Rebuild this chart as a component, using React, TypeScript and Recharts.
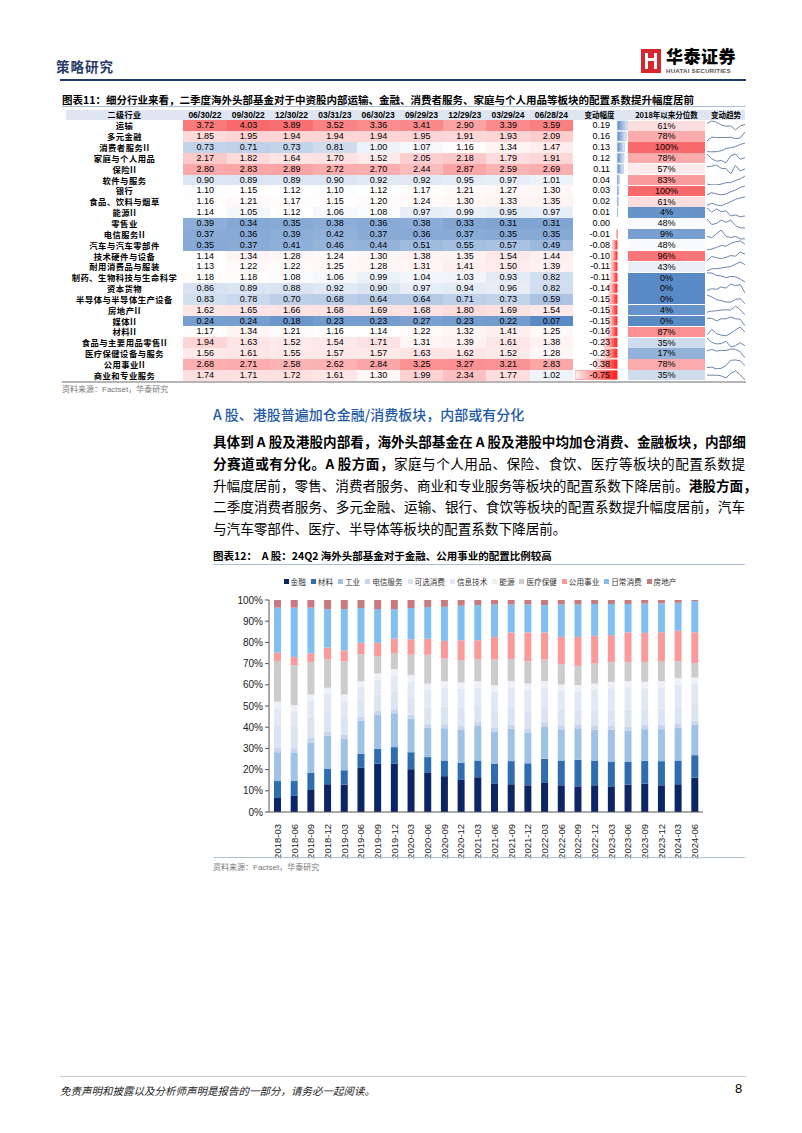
import React from "react";
import { BarChart, Bar, XAxis, YAxis, LineChart, Line, Cell } from "recharts";

// ---------- 图表11 表格数据 ----------
const dates = ["06/30/22", "09/30/22", "12/30/22", "03/31/23", "06/30/23", "09/29/23", "12/29/23", "03/29/24", "06/28/24"];

const industries = [
  "运输", "多元金融", "消费者服务II", "家庭与个人用品", "保险II", "软件与服务", "银行", "食品、饮料与烟草",
  "能源II", "零售业", "电信服务II", "汽车与汽车零部件", "技术硬件与设备", "耐用消费品与服装",
  "制药、生物科技与生命科学", "资本货物", "半导体与半导体生产设备", "房地产II", "媒体II", "材料II",
  "食品与主要用品零售II", "医疗保健设备与服务", "公用事业II", "商业和专业服务",
];

const coefRows = [
  [3.72, 4.03, 3.89, 3.52, 3.36, 3.41, 2.90, 3.39, 3.59],
  [1.85, 1.95, 1.94, 1.94, 1.94, 1.95, 1.91, 1.93, 2.09],
  [0.73, 0.71, 0.73, 0.81, 1.00, 1.07, 1.16, 1.34, 1.47],
  [2.17, 1.82, 1.64, 1.70, 1.52, 2.05, 2.18, 1.79, 1.91],
  [2.80, 2.83, 2.89, 2.72, 2.70, 2.44, 2.87, 2.59, 2.69],
  [0.90, 0.89, 0.89, 0.90, 0.92, 0.92, 0.95, 0.97, 1.01],
  [1.10, 1.15, 1.12, 1.10, 1.12, 1.17, 1.21, 1.27, 1.30],
  [1.16, 1.21, 1.17, 1.15, 1.20, 1.24, 1.30, 1.33, 1.35],
  [1.14, 1.05, 1.12, 1.06, 1.08, 0.97, 0.99, 0.95, 0.97],
  [0.39, 0.34, 0.35, 0.38, 0.36, 0.38, 0.33, 0.31, 0.31],
  [0.37, 0.36, 0.39, 0.42, 0.37, 0.36, 0.37, 0.35, 0.35],
  [0.35, 0.37, 0.41, 0.46, 0.44, 0.51, 0.55, 0.57, 0.49],
  [1.14, 1.34, 1.28, 1.24, 1.30, 1.38, 1.35, 1.54, 1.44],
  [1.13, 1.22, 1.22, 1.25, 1.28, 1.31, 1.41, 1.50, 1.39],
  [1.18, 1.18, 1.08, 1.06, 0.99, 1.04, 1.03, 0.93, 0.82],
  [0.86, 0.89, 0.88, 0.92, 0.90, 0.97, 0.94, 0.96, 0.82],
  [0.83, 0.78, 0.70, 0.68, 0.64, 0.64, 0.71, 0.73, 0.59],
  [1.62, 1.65, 1.66, 1.68, 1.69, 1.68, 1.80, 1.69, 1.54],
  [0.24, 0.24, 0.18, 0.23, 0.23, 0.27, 0.23, 0.22, 0.07],
  [1.17, 1.34, 1.21, 1.16, 1.14, 1.22, 1.32, 1.41, 1.25],
  [1.94, 1.63, 1.52, 1.54, 1.71, 1.31, 1.39, 1.61, 1.38],
  [1.56, 1.61, 1.55, 1.57, 1.57, 1.63, 1.62, 1.52, 1.28],
  [2.68, 2.71, 2.58, 2.62, 2.84, 3.25, 3.27, 3.21, 2.83],
  [1.74, 1.71, 1.72, 1.61, 1.30, 1.99, 2.34, 1.77, 1.02],
];

const changes = [0.19, 0.16, 0.13, 0.12, 0.11, 0.04, 0.03, 0.02, 0.01, 0.0, -0.01, -0.08, -0.10, -0.11, -0.11, -0.14, -0.15, -0.15, -0.15, -0.16, -0.23, -0.23, -0.38, -0.75];
const quantiles = [61, 78, 100, 78, 57, 83, 100, 61, 4, 48, 9, 48, 96, 43, 0, 0, 0, 4, 0, 87, 35, 17, 78, 35];

// ---------- 图表12 数据 (%) ----------
const quarters = [
  "2018-03", "2018-06", "2018-09", "2018-12", "2019-03", "2019-06", "2019-09", "2019-12", "2020-03", "2020-06",
  "2020-09", "2020-12", "2021-03", "2021-06", "2021-09", "2021-12", "2022-03", "2022-06", "2022-09", "2022-12",
  "2023-03", "2023-06", "2023-09", "2023-12", "2024-03", "2024-06",
];
const jinrong = [6.6, 7.6, 10.7, 13.1, 12.9, 20.8, 22.8, 22.8, 20.2, 18.7, 16.9, 15.4, 16.4, 13.5, 13.1, 12.6, 14.0, 12.6, 12.1, 12.6, 12.1, 12.9, 13.4, 12.6, 13.1, 16.2];
const cailiao = [8.0, 7.0, 7.7, 7.4, 6.8, 6.7, 7.0, 7.8, 8.0, 7.2, 7.4, 7.9, 7.9, 9.2, 10.9, 10.4, 11.1, 11.7, 12.5, 11.7, 11.7, 10.9, 10.7, 11.4, 11.2, 10.6];
const gongye = [13.6, 13.5, 14.4, 15.6, 14.7, 15.6, 16.0, 16.0, 15.8, 13.7, 15.2, 15.4, 16.3, 15.2, 15.3, 14.4, 15.3, 14.7, 14.9, 14.5, 15.0, 14.6, 15.0, 15.1, 15.3, 14.4];
const dianxin = [2.0, 2.0, 2.1, 2.0, 2.0, 1.8, 1.8, 1.8, 1.9, 1.8, 1.9, 1.9, 1.8, 1.9, 1.9, 2.0, 1.9, 1.9, 1.9, 1.9, 1.9, 1.9, 1.9, 1.9, 1.9, 1.9];
const kexuan = [11.2, 10.5, 10.0, 9.5, 8.8, 7.5, 7.8, 8.5, 8.2, 8.0, 8.3, 8.5, 8.0, 8.0, 8.1, 8.2, 7.5, 7.2, 7.0, 7.4, 7.7, 8.0, 7.6, 7.8, 8.1, 7.8];
const xinxi = [7.5, 7.0, 7.5, 8.0, 7.2, 6.5, 7.0, 7.5, 7.5, 8.2, 9.0, 9.0, 8.3, 9.0, 9.5, 10.0, 9.0, 9.0, 8.5, 9.5, 10.0, 10.5, 9.8, 10.0, 10.5, 9.5];
const nengyuan = [3.1, 2.9, 3.0, 3.0, 3.0, 2.8, 3.0, 3.0, 3.0, 3.0, 3.0, 3.0, 3.0, 3.0, 3.0, 3.0, 3.0, 3.0, 3.0, 3.0, 3.0, 3.0, 3.0, 3.0, 3.0, 3.0];
const yiliao = [19.2, 18.7, 15.4, 13.4, 15.7, 12.7, 8.1, 7.6, 9.6, 13.6, 10.7, 10.5, 10.3, 12.1, 10.4, 10.5, 10.1, 9.6, 9.0, 9.4, 9.4, 9.0, 9.4, 9.4, 8.0, 6.9];
const gongyong = [4.0, 3.9, 4.1, 5.6, 5.2, 5.4, 6.3, 6.8, 7.3, 7.5, 8.3, 9.4, 9.0, 10.7, 12.5, 13.6, 12.8, 12.9, 13.7, 13.1, 12.6, 13.9, 13.7, 13.6, 14.4, 14.5];
const richang = [21.2, 23.3, 21.5, 18.1, 19.4, 16.4, 15.9, 13.9, 14.7, 15.0, 16.1, 16.3, 16.6, 15.3, 13.2, 13.2, 12.9, 15.3, 15.3, 15.0, 14.7, 13.4, 13.8, 13.6, 13.2, 14.7];
const fangdichan = [3.6, 3.6, 3.6, 4.3, 4.3, 3.8, 4.3, 4.3, 3.8, 3.3, 3.2, 2.7, 2.4, 2.1, 2.1, 2.1, 2.4, 2.1, 2.1, 1.9, 1.9, 1.9, 1.7, 1.6, 1.3, 0.5];

const seriesNames = ["金融", "材料", "工业", "电信服务", "可选消费", "信息技术", "能源", "医疗保健", "公用事业", "日常消费", "房地产"];
const seriesValues = [jinrong, cailiao, gongye, dianxin, kexuan, xinxi, nengyuan, yiliao, gongyong, richang, fangdichan];
const seriesColors = ["#0c2566", "#2f6db3", "#9fc3e7", "#c6d6ee", "#dbe4f3", "#e3e9f4", "#eef1f7", "#cccccc", "#fb9a9a", "#80bff0", "#c77b80"];

const stackData = quarters.map((q, i) => {
  const row: Record<string, number | string> = { q };
  seriesNames.forEach((n, k) => (row[n] = seriesValues[k][i]));
  return row;
});

// ---------- helpers ----------
const BLUE = [90, 138, 198];
const RED = [248, 105, 107];
const mix = (c: number[], t: number) => {
  const k = Math.max(0, Math.min(1, t));
  const ch = c.map((v) => Math.round(255 + (v - 255) * k));
  return `rgb(${ch[0]},${ch[1]},${ch[2]})`;
};
const scale3 = (v: number, min: number, mid: number, max: number) =>
  v <= mid ? mix(BLUE, (mid - v) / (mid - min)) : mix(RED, (v - mid) / (max - mid));

const cn = '"Noto Sans CJK SC", sans-serif';
const num = '"Liberation Sans", Arial, sans-serif';

const ROW_H = 10.85;
const TABLE_TOP = 120.3;
const COL_W = 43.3;
const COL0 = 183.3;

const XTick = (props: any) => {
  const { x, y, payload } = props;
  return (
    <text x={x} y={y + 4} transform={`rotate(-90, ${x}, ${y + 4})`} textAnchor="end" dominantBaseline="central"
      fontSize={9.5} fill="#222" fontFamily={num}>
      {payload.value}
    </text>
  );
};

const bodyLines = [
  { parts: [{ t: "具体到 A 股及港股内部看，海外头部基金在 A 股及港股中均加仓消费、金融板块，内部细", b: true }], j: true },
  { parts: [{ t: "分赛道或有分化。", b: true }, { t: "A 股方面，", b: true }, { t: "家庭与个人用品、保险、食饮、医疗等板块的配置系数提", b: false }], j: true },
  { parts: [{ t: "升幅度居前，零售、消费者服务、商业和专业服务等板块的配置系数下降居前。", b: false }, { t: "港股方面，", b: true }], j: true },
  { parts: [{ t: "二季度消费者服务、多元金融、运输、银行、食饮等板块的配置系数提升幅度居前，汽车", b: false }], j: true },
  { parts: [{ t: "与汽车零部件、医疗、半导体等板块的配置系数下降居前。", b: false }], j: false },
];

export default function App() {
  const changeData = industries.map((name, i) => ({ name, v: changes[i] }));

  return (
    <div style={{ position: "absolute", left: 0, top: 0, width: 802, height: 1133, background: "#fff", overflow: "hidden", fontFamily: cn, color: "#000" }}>
      {/* page header */}
      <div style={{ position: "absolute", left: 56, top: 56, fontSize: 13.5, fontWeight: 700, color: "#2a3c6a", letterSpacing: 1 }}>策略研究</div>
      <div style={{ position: "absolute", left: 641, top: 49, width: 20, height: 24, background: "#d7282f" }}>
        <div style={{ position: "absolute", left: 4, top: 4, width: 3, height: 16, background: "#fff" }} />
        <div style={{ position: "absolute", left: 13, top: 4, width: 3, height: 16, background: "#fff" }} />
        <div style={{ position: "absolute", left: 7, top: 9, width: 6, height: 3, background: "#fff" }} />
      </div>
      <div style={{ position: "absolute", left: 666, top: 46, fontSize: 17, lineHeight: "20px", fontWeight: 900, letterSpacing: 0.5 }}>华泰证券</div>
      <div style={{ position: "absolute", left: 666, top: 67, fontSize: 6.2, lineHeight: "7px", fontFamily: num, fontWeight: 700, color: "#555", letterSpacing: 0.2 }}>HUATAI SECURITIES</div>
      <div style={{ position: "absolute", left: 60, top: 79, width: 686, height: 2, background: "#1f3a6e" }} />

      {/* 图表11 */}
      <div style={{ position: "absolute", left: 62, top: 92, fontSize: 10.5, fontWeight: 700 }}>
        图表11：细分行业来看，二季度海外头部基金对于中资股内部运输、金融、消费者服务、家庭与个人用品等板块的配置系数提升幅度居前
      </div>
      <div style={{ position: "absolute", left: 62, top: 106, width: 684, height: 1, background: "#aebfd9" }} />

      {/* header row */}
      <div style={{ position: "absolute", left: 66, top: 110, width: 679, height: 10, background: "#dfe6f1" }} />
      <div style={{ position: "absolute", left: 66, top: 110, width: 117, height: 10, lineHeight: "10px", textAlign: "center", fontSize: 8, fontWeight: 700, letterSpacing: 0.5 }}>二级行业</div>
      {dates.map((d, i) => (
        <div key={d} style={{ position: "absolute", left: COL0 + i * COL_W, top: 110, width: COL_W, height: 10, lineHeight: "10px", textAlign: "center", fontSize: 8.5, fontWeight: 700, fontFamily: num }}>{d}</div>
      ))}
      <div style={{ position: "absolute", left: 573, top: 110, width: 53, height: 10, lineHeight: "10px", textAlign: "center", fontSize: 7.5, fontWeight: 700 }}>变动幅度</div>
      <div style={{ position: "absolute", left: 628, top: 110, width: 77, height: 10, lineHeight: "10px", textAlign: "center", fontSize: 7.5, fontWeight: 700 }}>2018年以来分位数</div>
      <div style={{ position: "absolute", left: 705, top: 110, width: 42, height: 10, lineHeight: "10px", textAlign: "center", fontSize: 7.5, fontWeight: 700 }}>变动趋势</div>

      {industries.map((name, r) => {
        const top = TABLE_TOP + r * ROW_H;
        return (
          <React.Fragment key={name}>
            <div style={{ position: "absolute", left: 62, top, width: 125, height: ROW_H, lineHeight: `${ROW_H}px`, textAlign: "center", fontSize: 8.3, fontWeight: 700, letterSpacing: 0.5, whiteSpace: "nowrap" }}>{name}</div>
            {coefRows[r].map((v, c) => (
              <div key={c} style={{ position: "absolute", left: COL0 + c * COL_W, top, width: COL_W + 0.5, height: ROW_H + 0.3, lineHeight: `${ROW_H}px`, textAlign: "center", fontSize: 9, fontFamily: num, background: scale3(v, 0.07, 1.12, 4.03) }}>{v.toFixed(2)}</div>
            ))}
            <div style={{ position: "absolute", left: 573, top, width: 37, height: ROW_H, lineHeight: `${ROW_H}px`, textAlign: "right", fontSize: 9, fontFamily: num, zIndex: 2 }}>{changes[r].toFixed(2)}</div>
            <div style={{ position: "absolute", left: 628, top: top + 0.3, width: 77, height: ROW_H - 0.6, lineHeight: `${ROW_H - 0.6}px`, textAlign: "center", fontSize: 9, fontFamily: num, background: scale3(quantiles[r], 0, 50, 100) }}>{quantiles[r]}%</div>
            <div style={{ position: "absolute", left: 707, top }}>
              <LineChart width={38} height={ROW_H} data={coefRows[r].map((v, k) => ({ k, v }))} margin={{ top: 1, right: 0, bottom: 1, left: 0 }}>
                <YAxis hide domain={["dataMin", "dataMax"]} />
                <XAxis hide dataKey="k" />
                <Line type="linear" dataKey="v" stroke="#6b84ab" strokeWidth={1} dot={false} isAnimationActive={false} />
              </LineChart>
            </div>
          </React.Fragment>
        );
      })}

      {/* data bars for 变动幅度 */}
      <div style={{ position: "absolute", left: 575, top: TABLE_TOP }}>
        <BarChart layout="vertical" width={53} height={ROW_H * industries.length} data={changeData} margin={{ top: 0, right: 0, bottom: 0, left: 0 }} barCategoryGap={1}>
          <defs>
            <linearGradient id="posG" x1="0" y1="0" x2="1" y2="0">
              <stop offset="0%" stopColor="#5f8bc6" />
              <stop offset="100%" stopColor="#e6edf7" />
            </linearGradient>
            <linearGradient id="negG" x1="0" y1="0" x2="1" y2="0">
              <stop offset="0%" stopColor="#fff2f2" />
              <stop offset="100%" stopColor="#ff1a1a" />
            </linearGradient>
          </defs>
          <XAxis type="number" hide domain={[-0.75, 0.19]} />
          <YAxis type="category" dataKey="name" hide />
          <Bar dataKey="v" isAnimationActive={false}>
            {changeData.map((d) => (
              <Cell key={d.name} fill={d.v >= 0 ? "url(#posG)" : "url(#negG)"} stroke={d.v >= 0 ? "#9cb4d8" : "#ff6b6b"} strokeWidth={0.5} />
            ))}
          </Bar>
        </BarChart>
      </div>
      <div style={{ position: "absolute", left: 62, top: 380.5, width: 684, height: 2, background: "#b5b5b5" }} />
      <div style={{ position: "absolute", left: 62, top: 383, fontSize: 8, color: "#777" }}>资料来源：<span style={{ fontFamily: num }}>Factset</span>，华泰研究</div>

      {/* section text */}
      <div style={{ position: "absolute", left: 213, top: 404, fontSize: 14, color: "#1f5aa6", fontWeight: 500 }}>A 股、港股普遍加仓金融/消费板块，内部或有分化</div>
      {bodyLines.map((ln, i) => (
        <div key={i} style={{ position: "absolute", left: 213, top: 431 + i * 21.8, width: 532, fontSize: 13.6, lineHeight: "20px", textAlign: ln.j ? "justify" : "left", textAlignLast: ln.j ? "justify" : "left", whiteSpace: "nowrap" as const }}>
          {ln.parts.map((p, k) => (
            <span key={k} style={{ fontWeight: p.b ? 700 : 400 }}>{p.t}</span>
          ))}
        </div>
      ))}

      {/* 图表12 */}
      <div style={{ position: "absolute", left: 213, top: 548, fontSize: 10.5, fontWeight: 700 }}>
        图表12：&nbsp;&nbsp;A 股：24Q2 海外头部基金对于金融、公用事业的配置比例较高
      </div>
      <div style={{ position: "absolute", left: 213, top: 564, width: 532, height: 1, background: "#aebfd9" }} />
      <div style={{ position: "absolute", left: 213, top: 576, width: 534, display: "flex", justifyContent: "center", gap: 5, fontSize: 7.6, color: "#333" }}>
        {seriesNames.map((n, k) => (
          <span key={n} style={{ display: "flex", alignItems: "center", gap: 2 }}>
            <span style={{ width: 5, height: 5, background: seriesColors[k], display: "inline-block" }} />
            {n}
          </span>
        ))}
      </div>
      <div style={{ position: "absolute", left: 213, top: 590 }}>
        <BarChart width={495} height={270} data={stackData} margin={{ top: 10, right: 5, left: 0, bottom: 0 }} barSize={7}>
          <XAxis dataKey="q" interval={0} height={48} tick={<XTick />} tickLine={false} axisLine={{ stroke: "#555" }} />
          <YAxis width={56} domain={[0, 100]} ticks={[0, 10, 20, 30, 40, 50, 60, 70, 80, 90, 100]} tickFormatter={(v) => `${v}%`}
            tick={{ fontSize: 10, fill: "#222", fontFamily: num }} axisLine={{ stroke: "#555" }} tickLine={{ stroke: "#555" }} tickSize={4} allowDataOverflow />
          {seriesNames.map((n, k) => (
            <Bar key={n} dataKey={n} stackId="a" fill={seriesColors[k]} isAnimationActive={false} />
          ))}
        </BarChart>
      </div>
      <div style={{ position: "absolute", left: 213, top: 857, width: 532, height: 1, background: "#aebfd9" }} />
      <div style={{ position: "absolute", left: 213, top: 861, fontSize: 8, color: "#777" }}>资料来源：<span style={{ fontFamily: num }}>Factset</span>，华泰研究</div>

      {/* footer */}
      <div style={{ position: "absolute", left: 60, top: 1076, width: 686, height: 1, background: "#c8c8c8" }} />
      <div style={{ position: "absolute", left: 60, top: 1083, fontSize: 10.5, fontStyle: "italic", color: "#222" }}>免责声明和披露以及分析师声明是报告的一部分，请务必一起阅读。</div>
      <div style={{ position: "absolute", left: 735, top: 1081, fontSize: 13, fontFamily: num }}>8</div>
    </div>
  );
}
